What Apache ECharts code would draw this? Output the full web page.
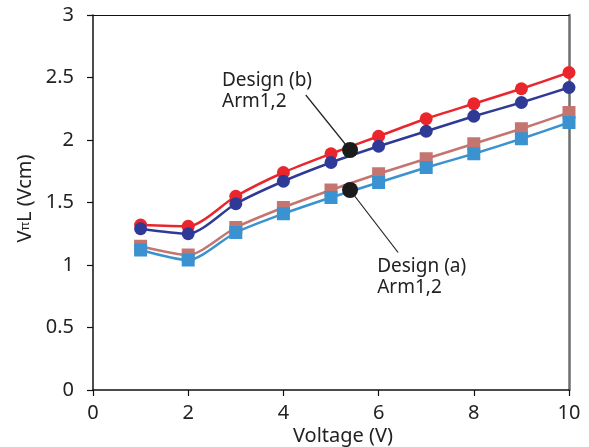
<!DOCTYPE html>
<html>
<head>
<meta charset="utf-8">
<script src="https://cdn.jsdelivr.net/npm/echarts@6/dist/echarts.min.js"></script>
<style>
  html, body { margin: 0; padding: 0; background: #fff; }
  #chart { width: 589px; height: 447px; }
</style>
</head>
<body>
<div id="chart"></div>
<script>
var voltage = [1, 2, 3, 4, 5, 6, 7, 8, 9, 10];
var redCircle  = [1.32, 1.31, 1.55, 1.74, 1.89, 2.03, 2.17, 2.29, 2.41, 2.54];
var navyCircle = [1.29, 1.25, 1.49, 1.67, 1.82, 1.95, 2.07, 2.19, 2.30, 2.42];
var roseSquare = [1.15, 1.08, 1.30, 1.46, 1.60, 1.73, 1.85, 1.97, 2.09, 2.22];
var blueSquare = [1.12, 1.04, 1.26, 1.41, 1.54, 1.66, 1.78, 1.89, 2.01, 2.14];

// markers for the two designs and their leader lines
var designDots = [[5.4, 1.92], [5.4, 1.60]];
var leaderB = [[4.47, 2.36], [5.4, 1.92]];
var leaderA = [[5.4, 1.60], [6.41, 1.10]];
var labelB = [2.71, 2.56];
var labelA = [5.97, 1.075];

function pairs(ys) {
    return voltage.map(function (x, i) { return [x, ys[i]]; });
}

var font = 'Noto Sans';
var myChart = echarts.init(document.getElementById('chart'));

function lineSeries(ys, color, symbol) {
    return {
        type: 'line',
        data: pairs(ys),
        smooth: 0.25,
        symbol: symbol,
        symbolSize: 13,
        showSymbol: true,
        lineStyle: { color: color, width: 2.5 },
        itemStyle: { color: color },
        z: 3
    };
}

var option = {
    animation: false,
    grid: { left: 93, right: 20, top: 15, bottom: 57, outerBoundsMode: 'none', containLabel: false },
    xAxis: [{
        type: 'value',
        min: 0, max: 10, interval: 2,
        name: 'Voltage (V)',
        nameLocation: 'middle',
        nameGap: 36,
        nameMoveOverlap: false,
        nameTextStyle: { fontFamily: font, fontSize: 20, color: '#222', padding: [0, 0, 0, 24] },
        axisLine: { onZero: false, lineStyle: { color: '#111', width: 1.5 } },
        axisTick: { inside: false, length: 6, lineStyle: { color: '#111', width: 1.2 } },
        axisLabel: { fontFamily: font, fontSize: 20, color: '#222', margin: 13 },
        splitLine: { show: false }
    }, {
        type: 'value', position: 'top',
        min: 0, max: 10,
        axisLine: { show: true, onZero: false, lineStyle: { color: '#111', width: 1.2 } },
        axisTick: { show: false }, axisLabel: { show: false }, splitLine: { show: false }
    }],
    yAxis: [{
        type: 'value',
        min: 0, max: 3, interval: 0.5,
        name: 'V{pi|π}L (Vcm)',
        nameLocation: 'middle',
        nameGap: 58,
        nameMoveOverlap: false,
        nameTextStyle: {
            fontFamily: font, fontSize: 20, color: '#222', padding: [0, 0, 0, 8],
            rich: { pi: { fontFamily: font, fontSize: 13, color: '#222' } }
        },
        axisLine: { show: true, onZero: false, lineStyle: { color: '#111', width: 1.5 } },
        axisTick: { show: true, inside: false, length: 6, lineStyle: { color: '#111', width: 1.2 } },
        axisLabel: { fontFamily: font, fontSize: 20, color: '#222', margin: 19 },
        splitLine: { show: false }
    }, {
        type: 'value', position: 'right',
        min: 0, max: 3,
        axisLine: { show: true, onZero: false, lineStyle: { color: '#6e6e6e', width: 2.5 } },
        axisTick: { show: false }, axisLabel: { show: false }, splitLine: { show: false }
    }],
    series: [
        lineSeries(roseSquare, '#c4756f', 'rect'),
        lineSeries(blueSquare, '#3a93d0', 'rect'),
        lineSeries(redCircle, '#ea262c', 'circle'),
        lineSeries(navyCircle, '#2f3a96', 'circle'),
        {
            type: 'line', data: leaderB, symbol: 'none',
            lineStyle: { color: '#222', width: 1.2 }, z: 4
        },
        {
            type: 'line', data: leaderA, symbol: 'none',
            lineStyle: { color: '#222', width: 1.2 }, z: 4
        },
        {
            type: 'scatter', data: designDots, symbol: 'circle', symbolSize: 16,
            itemStyle: { color: '#1b1b1b', opacity: 1 }, z: 5
        }
    ]
};
myChart.setOption(option);

function annotation(pos, text) {
    var p = myChart.convertToPixel({ xAxisIndex: 0, yAxisIndex: 0 }, pos);
    return {
        type: 'text',
        x: p[0], y: p[1],
        style: {
            text: text,
            fontFamily: font, fontSize: 19, lineHeight: 21,
            fill: '#222', align: 'left', verticalAlign: 'top'
        },
        z: 10
    };
}

myChart.setOption({
    graphic: [
        annotation(labelB, 'Design (b)\nArm1,2'),
        annotation(labelA, 'Design (a)\nArm1,2')
    ]
});
</script>
</body>
</html>
